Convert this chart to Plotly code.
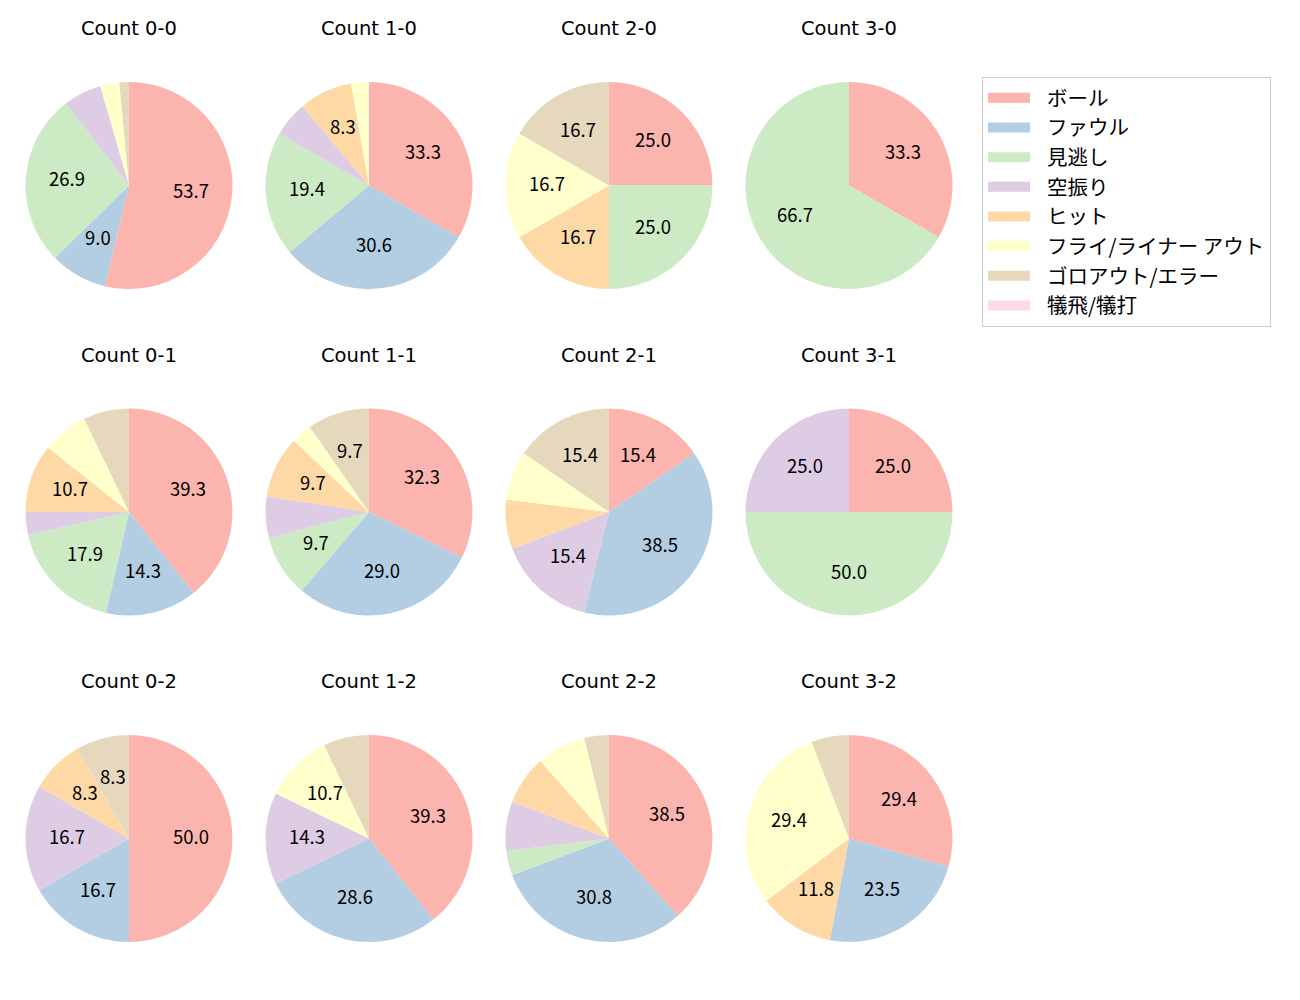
import math
import plotly.graph_objects as go

labels = ["ボール", "ファウル", "見逃し", "空振り", "ヒット", "フライ/ライナー アウト", "ゴロアウト/エラー", "犠飛/犠打"]
colors = ["#fbb4ae", "#b3cde3", "#ccebc5", "#decbe4", "#fed9a6", "#ffffcc", "#e5d8bd", "#fddaec"]

titles = ["Count 0-0", "Count 1-0", "Count 2-0", "Count 3-0",
          "Count 0-1", "Count 1-1", "Count 2-1", "Count 3-1",
          "Count 0-2", "Count 1-2", "Count 2-2", "Count 3-2"]

counts_00 = [36, 6, 18, 4, 0, 2, 1, 0]
counts_10 = [12, 11, 7, 2, 3, 1, 0, 0]
counts_20 = [3, 0, 3, 0, 2, 2, 2, 0]
counts_30 = [1, 0, 2, 0, 0, 0, 0, 0]
counts_01 = [11, 4, 5, 1, 3, 2, 2, 0]
counts_11 = [10, 9, 3, 2, 3, 1, 3, 0]
counts_21 = [2, 5, 0, 2, 1, 1, 2, 0]
counts_31 = [1, 0, 2, 1, 0, 0, 0, 0]
counts_02 = [6, 2, 0, 2, 1, 0, 1, 0]
counts_12 = [11, 8, 0, 4, 0, 3, 2, 0]
counts_22 = [10, 8, 1, 2, 2, 2, 1, 0]
counts_32 = [5, 4, 0, 0, 2, 5, 1, 0]

all_counts = [counts_00, counts_10, counts_20, counts_30,
              counts_01, counts_11, counts_21, counts_31,
              counts_02, counts_12, counts_22, counts_32]

W, H = 1300, 1000
col_cx = [129, 369, 609, 849]
row_cy = [185.5, 512, 838.5]
R = 103.5
title_y = [29, 356, 682]
FONT = "Noto Sans CJK JP"
TITLE_FONT = "DejaVu Sans"
THRESH = 8.0

fig = go.Figure()
annotations = []
for i, (vals, title) in enumerate(zip(all_counts, titles)):
    r, c = divmod(i, 4)
    cx, cy = col_cx[c], row_cy[r]
    fig.add_trace(go.Pie(
        labels=labels, values=vals, sort=False, direction="clockwise", rotation=0,
        marker=dict(colors=colors, line=dict(width=0)),
        textinfo="none", hoverinfo="label+percent",
        showlegend=False,
        domain=dict(x=[(cx - R) / W, (cx + R) / W], y=[1 - (cy + R) / H, 1 - (cy - R) / H]),
    ))
    total = sum(vals)
    cum = 0.0
    for v in vals:
        frac = v / total
        pct = 100 * frac
        if pct >= THRESH:
            theta = math.radians(90 - 360 * (cum + frac / 2))
            px = cx + 0.6 * R * math.cos(theta)
            py = cy - 0.6 * R * math.sin(theta)
            annotations.append(dict(x=px / W, y=1 - py / H, xref="paper", yref="paper",
                                    text=f"{pct:.1f}", showarrow=False,
                                    xanchor="center", yanchor="middle", yshift=3,
                                    font=dict(size=18.5, color="black", family=FONT)))
        cum += frac
    annotations.append(dict(x=cx / W, y=1 - title_y[r] / H, xref="paper", yref="paper",
                            text=title, showarrow=False, xanchor="center", yanchor="middle",
                            yshift=1,
                            font=dict(size=19.5, color="black", family=TITLE_FONT)))

# legend entries (one per category), drawn as wide colour patches
for lab, col in zip(labels, colors):
    fig.add_trace(go.Scatter(x=[None], y=[None], mode="lines", name=lab,
                             line=dict(color=col, width=15, dash="42px,40px"),
                             hoverinfo="skip", showlegend=True))

fig.update_layout(
    width=W, height=H,
    margin=dict(l=0, r=0, t=0, b=0),
    paper_bgcolor="white", plot_bgcolor="white",
    font=dict(family=FONT, color="black"),
    annotations=annotations,
    xaxis=dict(visible=False), yaxis=dict(visible=False),
    legend=dict(x=982 / W, y=1 - 77 / H, xanchor="left", yanchor="top",
                bordercolor="#cccccc", borderwidth=1, bgcolor="white",
                font=dict(size=20.5, family=FONT), itemwidth=54, traceorder="normal"),
)

fig.write_html("out.html")
